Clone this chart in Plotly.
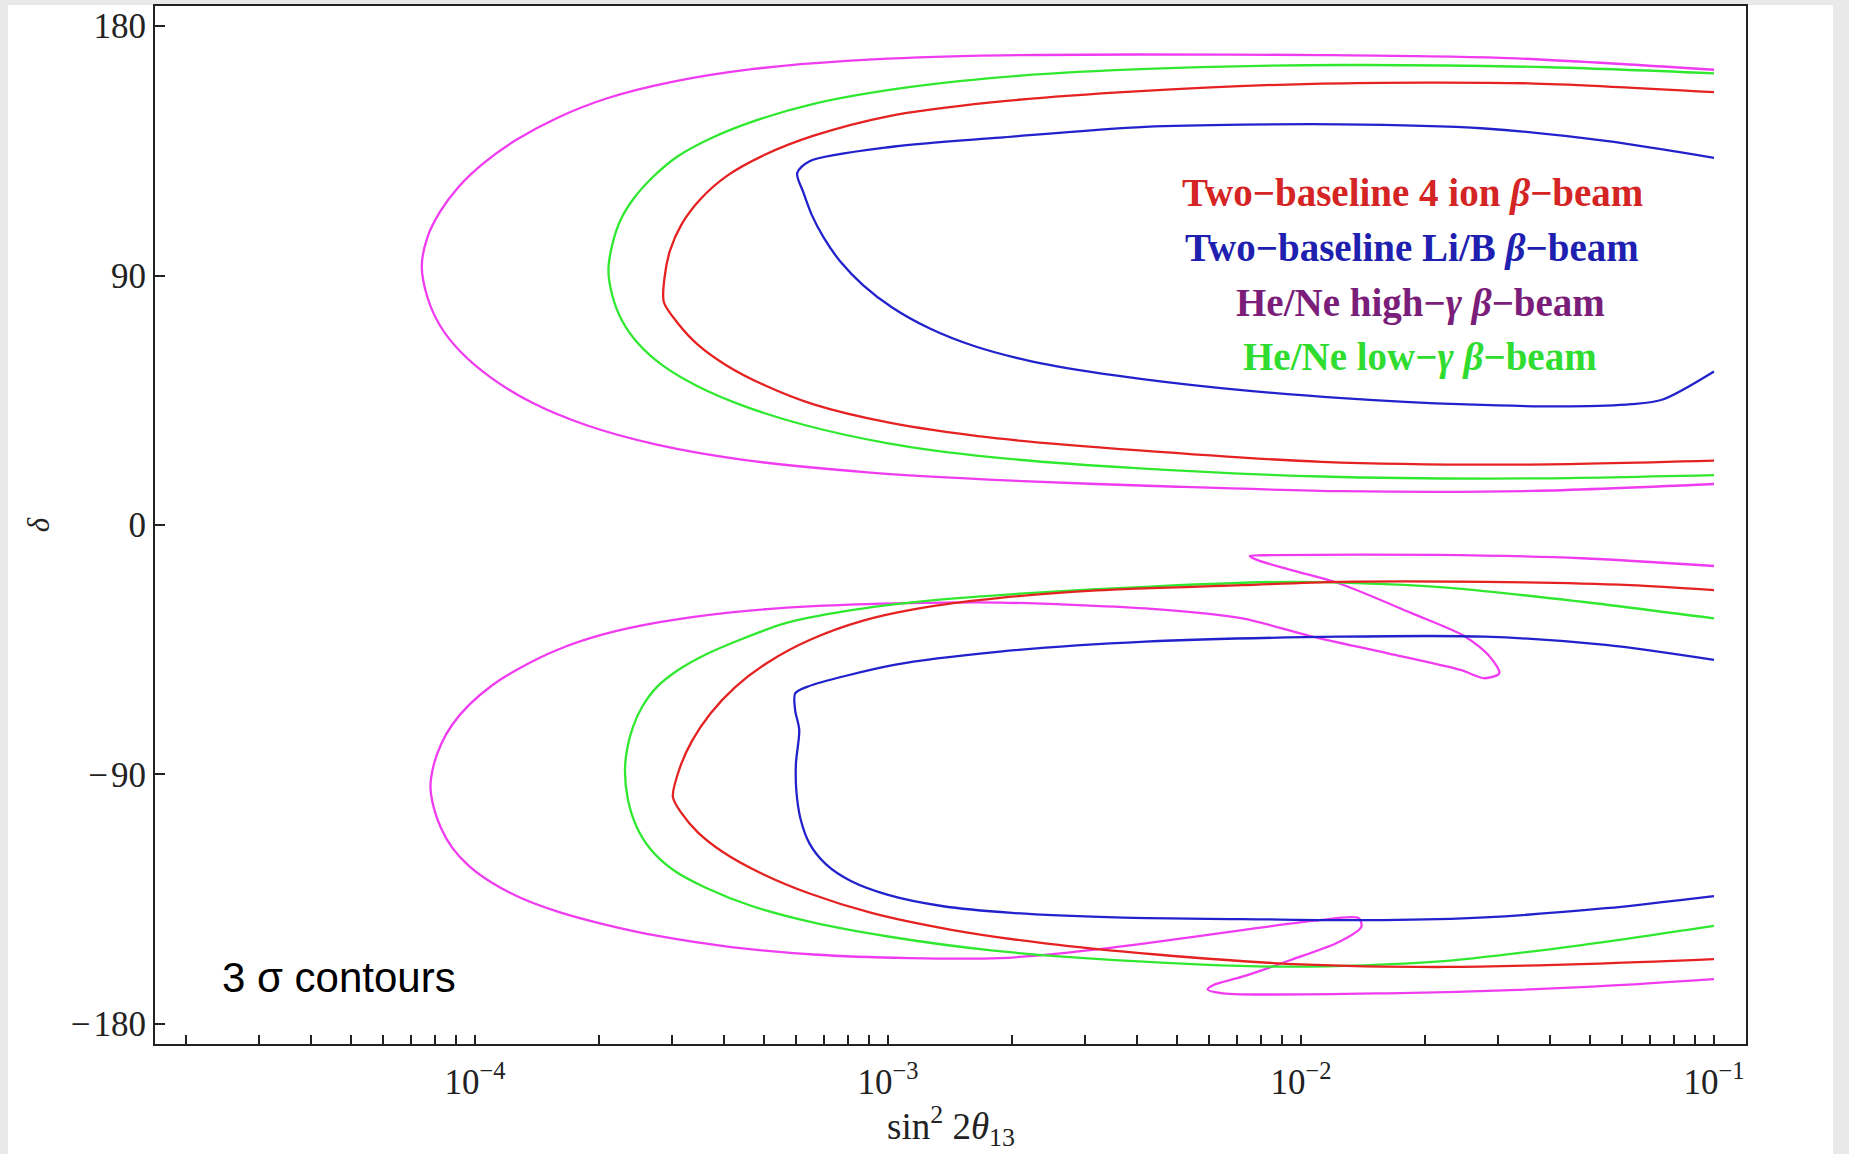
import plotly.graph_objects as go

# ---------------- data (log10 of sin^2 2theta13, delta in degrees) ----------------
# Upper (delta > 0) contours, traced from top-right end, around the nose, to bottom-right end
red_upper_logs = [-1.0, -1.45, -1.95, -2.40, -2.75, -3.00, -3.18, -3.30, -3.39, -3.455,
                  -3.50, -3.528, -3.541, -3.543, -3.51, -3.46, -3.39, -3.30, -3.18, -3.00,
                  -2.75, -2.40, -1.95, -1.45, -1.0]
red_upper_delta = [156.2, 159.4, 159.3, 156.5, 152.5, 147.5, 140.5, 133.5, 126.0, 117.5,
                   108.5, 99.0, 89.5, 80.5, 73.0, 65.0, 57.5, 50.5, 43.5, 37.0,
                   31.5, 27.0, 22.8, 21.8, 23.2]

blue_upper_logs = [-1.0, -1.262, -1.555, -1.907, -2.377, -2.729, -2.985, -3.19, -3.220, -3.205,
                   -3.185, -3.155, -3.115, -3.06, -2.99, -2.90, -2.79, -2.65, -2.45, -2.20,
                   -1.90, -1.60, -1.35, -1.20, -1.124, -1.0]
blue_upper_delta = [132.5, 138.6, 143.1, 144.6, 143.7, 139.8, 136.6, 131.3, 127.0, 120.0,
                    112.0, 103.5, 95.0, 86.5, 78.5, 71.0, 64.5, 59.0, 54.0, 49.5,
                    45.8, 43.5, 42.8, 43.6, 45.3, 55.4]

magenta_upper_logs = [-1.0, -1.50, -1.95, -2.40, -2.80, -3.10, -3.33, -3.52, -3.68, -3.80,
                      -3.90, -3.98, -4.04, -4.085, -4.115, -4.129, -4.115, -4.085, -4.035, -3.96,
                      -3.86, -3.73, -3.56, -3.35, -3.05, -2.70, -2.30, -1.90, -1.44, -1.0]
magenta_upper_delta = [164.3, 168.5, 169.6, 169.8, 169.3, 167.5, 164.5, 160.0, 154.0, 147.0,
                       139.0, 130.5, 122.0, 113.0, 104.0, 93.4, 82.0, 72.0, 62.5, 53.0,
                       44.0, 36.0, 29.0, 23.5, 19.0, 16.0, 13.8, 12.2, 12.3, 14.8]

green_upper_logs = [-1.0, -1.40, -1.90, -2.30, -2.65, -2.95, -3.18, -3.33, -3.43, -3.51,
                    -3.57, -3.615, -3.648, -3.668, -3.677, -3.668, -3.645, -3.605, -3.545, -3.46,
                    -3.35, -3.20, -3.00, -2.75, -2.40, -1.95, -1.45, -1.0]
green_upper_delta = [163.0, 165.2, 166.0, 165.0, 162.5, 158.0, 152.0, 145.5, 139.5, 133.0,
                     125.5, 118.0, 110.0, 101.0, 92.0, 83.0, 74.0, 65.5, 57.5, 50.0,
                     43.0, 36.0, 29.5, 24.5, 20.5, 17.5, 16.8, 18.0]

# Lower (delta < 0) contours
red_lower_logs = [-1.0, -1.203, -1.555, -1.907, -2.142, -2.494, -2.729, -2.90, -3.06, -3.19,
                  -3.29, -3.37, -3.43, -3.475, -3.505, -3.521, -3.50, -3.46, -3.40, -3.31,
                  -3.19, -3.04, -2.85, -2.62, -2.35, -2.00, -1.65, -1.30, -1.0]
red_lower_delta = [-23.5, -21.7, -20.5, -20.5, -21.7, -23.6, -26.3, -29.5, -34.5, -41.5,
                   -49.5, -58.5, -68.0, -78.0, -88.0, -98.1, -104.0, -111.0, -118.0, -125.5,
                   -133.0, -140.0, -146.0, -151.0, -155.0, -158.6, -159.5, -158.4, -156.7]

blue_lower_logs = [-1.0, -1.262, -1.555, -1.907, -2.377, -2.729, -2.985, -3.196, -3.225, -3.225,
                   -3.215, -3.223, -3.222, -3.212, -3.19, -3.15, -3.09, -3.00, -2.87, -2.70,
                   -2.45, -2.10, -1.80, -1.555, -1.262, -1.0]
blue_lower_delta = [-48.7, -43.3, -40.3, -40.3, -42.1, -45.7, -50.5, -58.4, -60.8, -66.8,
                    -74.0, -86.0, -96.0, -106.0, -115.0, -122.5, -128.5, -133.5, -137.5, -140.0,
                    -141.6, -142.3, -142.6, -141.6, -138.3, -133.9]

magenta_lower_logs = [-1.0, -1.320, -1.672, -2.071, -2.124, -2.107, -2.025, -1.907, -1.731, -1.602,
                      -1.543, -1.520, -1.555, -1.614, -1.790, -1.978, -2.142, -2.377, -2.729,
                      -2.95, -3.18, -3.38, -3.55, -3.69, -3.80, -3.89, -3.96, -4.015, -4.055,
                      -4.082, -4.100, -4.108, -4.100, -4.082, -4.055, -4.015, -3.96, -3.89, -3.80,
                      -3.69, -3.55, -3.38, -3.18, -2.95, -2.729, -2.576, -2.377, -2.142, -1.966,
                      -1.860, -1.854, -1.907, -2.025, -2.142, -2.212, -2.226, -2.189, -1.790,
                      -1.320, -1.0]
magenta_lower_delta = [-14.8, -12.0, -10.8, -10.9, -11.2, -12.6, -16.2, -21.1, -31.9, -40.3,
                       -47.5, -53.5, -55.3, -52.3, -46.3, -40.1, -33.7, -30.1, -28.0,
                       -28.2, -29.3, -31.5, -35.0, -39.5, -45.0, -51.5, -58.0, -65.0, -72.0,
                       -79.0, -86.5, -94.4, -102.0, -109.5, -116.5, -123.0, -129.0, -134.5, -139.5,
                       -144.0, -148.5, -152.3, -155.0, -156.3, -156.3, -154.5, -151.0, -146.2, -142.8,
                       -141.9, -145.0, -150.4, -157.0, -163.0, -166.0, -167.6, -169.0, -169.0,
                       -166.8, -163.9]

green_lower_logs = [-1.0, -1.320, -1.672, -2.025, -2.377, -2.65, -2.90, -3.10, -3.25, -3.36,
                    -3.445, -3.51, -3.56, -3.595, -3.618, -3.632, -3.637, -3.630, -3.610, -3.575,
                    -3.52, -3.44, -3.33, -3.18, -3.00, -2.75, -2.45, -2.025, -1.672, -1.320, -1.0]
green_lower_delta = [-33.7, -27.7, -22.3, -20.5, -22.3, -24.5, -27.3, -31.0, -35.5, -41.5,
                     -47.0, -52.5, -58.5, -65.5, -73.0, -81.0, -89.0, -99.0, -108.5, -117.0,
                     -124.5, -131.0, -137.5, -143.5, -148.5, -153.5, -157.0, -159.4, -157.6,
                     -151.6, -144.7]

legend_labels = ["<b>Two\u2212baseline 4 ion <i>\u03b2</i>\u2212beam</b>",
                 "<b>Two\u2212baseline Li/B <i>\u03b2</i>\u2212beam</b>",
                 "<b>He/Ne high\u2212<i>\u03b3</i> <i>\u03b2</i>\u2212beam</b>",
                 "<b>He/Ne low\u2212<i>\u03b3</i> <i>\u03b2</i>\u2212beam</b>"]
legend_colors = ["#d42424", "#2020b0", "#7a1e7a", "#30dc30"]

y_tick_vals = [-180, -90, 0, 90, 180]
y_tick_text = ["\u2212\u200a180", "\u2212\u200a90", "0", "90", "180"]
x_decades = [1e-4, 1e-3, 1e-2, 1e-1]
x_decade_text = ["10<sup>\u22124</sup>", "10<sup>\u22123</sup>", "10<sup>\u22122</sup>", "10<sup>\u22121</sup>"]
x_title = "sin<sup>2</sup> 2<i>\u03b8</i><sub>13</sub>"
y_title = "<i>\u03b4</i>"

# ---------------- figure ----------------
W, H = 1849, 1154
ML, MR, MT, MB = 155, 103, 6, 110
PW, PH = W - ML - MR, H - MT - MB


def xp(px):
    return (px - ML) / PW


def yp(py):
    return (H - MB - py) / PH


LINE_RED = "#e52222"
LINE_BLUE = "#2222cc"
LINE_MAG = "#f03cf0"
LINE_GREEN = "#30e830"

curves = [
    (magenta_upper_logs, magenta_upper_delta, LINE_MAG, "He/Ne high-γ (δ>0)"),
    (green_upper_logs, green_upper_delta, LINE_GREEN, "He/Ne low-γ (δ>0)"),
    (red_upper_logs, red_upper_delta, LINE_RED, "Two-baseline 4 ion (δ>0)"),
    (blue_upper_logs, blue_upper_delta, LINE_BLUE, "Two-baseline Li/B (δ>0)"),
    (magenta_lower_logs, magenta_lower_delta, LINE_MAG, "He/Ne high-γ (δ<0)"),
    (green_lower_logs, green_lower_delta, LINE_GREEN, "He/Ne low-γ (δ<0)"),
    (red_lower_logs, red_lower_delta, LINE_RED, "Two-baseline 4 ion (δ<0)"),
    (blue_lower_logs, blue_lower_delta, LINE_BLUE, "Two-baseline Li/B (δ<0)"),
]

fig = go.Figure()
for logs, dl, col, name in curves:
    fig.add_trace(go.Scatter(
        x=[10 ** v for v in logs], y=dl, mode="lines", name=name,
        line=dict(color=col, width=2.3, shape="spline", smoothing=0.8),
        showlegend=False, hoverinfo="skip"))

# x ticks: decades labelled, 2..9 minor ticks unlabelled
x_tick_vals, x_tick_text = [], []
for k in range(-5, 0):
    base = 10.0 ** k
    for m in range(1, 10):
        v = m * base
        if v < 1.8e-5 or v > 0.1001:
            continue
        x_tick_vals.append(v)
        if m == 1 and v in x_decades:
            x_tick_text.append(x_decade_text[x_decades.index(v)])
        else:
            x_tick_text.append("")

serif = "Liberation Serif, Times New Roman, serif"
axis_col = "#222222"

fig.update_layout(
    width=W, height=H,
    margin=dict(l=ML, r=MR, t=MT, b=MB, autoexpand=False),
    paper_bgcolor="#e9e9e9",
    plot_bgcolor="white",
    font=dict(family=serif, color=axis_col),
    xaxis=dict(
        type="log", range=[-4.775, -0.9225],
        tickmode="array", tickvals=x_tick_vals, ticktext=x_tick_text,
        ticks="inside", ticklen=9, tickwidth=1.6, tickcolor=axis_col,
        ticklabelstandoff=6,
        showline=True, linecolor=axis_col, linewidth=2, mirror=True,
        showgrid=False, zeroline=False,
        tickfont=dict(family=serif, size=35, color=axis_col),
    ),
    yaxis=dict(
        range=[-187.3, 187.3],
        tickmode="array", tickvals=y_tick_vals, ticktext=y_tick_text,
        ticks="inside", ticklen=10, tickwidth=1.6, tickcolor=axis_col,
        showline=True, linecolor=axis_col, linewidth=2, mirror=True,
        showgrid=False, zeroline=False,
        tickfont=dict(family=serif, size=35, color=axis_col),
        title=dict(text=y_title, font=dict(family=serif, size=31, color=axis_col), standoff=12),
    ),
    yaxis2=dict(
        overlaying="y", side="right", range=[-187.3, 187.3],
        tickmode="array", tickvals=y_tick_vals, ticktext=y_tick_text,
        ticks="inside", ticklen=10, tickwidth=1.6, tickcolor=axis_col,
        showline=False, showgrid=False, zeroline=False,
        tickfont=dict(family=serif, size=35, color=axis_col),
    ),
    shapes=[dict(type="rect", xref="paper", yref="paper",
                 x0=xp(8), x1=xp(1833), y0=yp(H + 2), y1=yp(5),
                 fillcolor="white", line=dict(width=0), layer="below")],
)

# x-axis title (placed as annotation so it can sit below the margin clamp)
fig.add_annotation(x=0.5, y=yp(1126), xref="paper", yref="paper",
                   text=x_title, showarrow=False, xanchor="center", yanchor="middle",
                   font=dict(family=serif, size=37, color=axis_col))

legend_pos = [(1412, 193), (1412, 248), (1420, 303), (1420, 357)]
for txt, col, (px, py) in zip(legend_labels, legend_colors, legend_pos):
    fig.add_annotation(x=xp(px), y=yp(py), xref="paper", yref="paper",
                       text=txt, showarrow=False, xanchor="center", yanchor="middle",
                       font=dict(family=serif, size=39, color=col))

fig.add_annotation(x=xp(220), y=yp(977), xref="paper", yref="paper",
                   text="3 \u03c3 contours", showarrow=False, xanchor="left", yanchor="middle",
                   font=dict(family="Liberation Sans, Arial, sans-serif", size=42, color="black"))

fig.write_html("out.html")
